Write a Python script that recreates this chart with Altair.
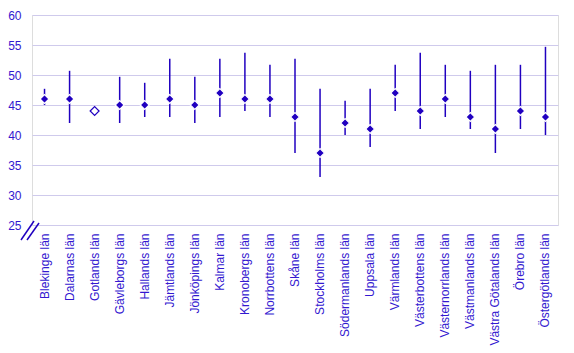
import altair as alt
import pandas as pd

counties = ["Blekinge län", "Dalarnas län", "Gotlands län", "Gävleborgs län", "Hallands län",
            "Jämtlands län", "Jönköpings län", "Kalmar län", "Kronobergs län", "Norrbottens län",
            "Skåne län", "Stockholms län", "Södermanlands län", "Uppsala län", "Värmlands län",
            "Västerbottens län", "Västernorrlands län", "Västmanlands län", "Västra Götalands län",
            "Örebro län", "Östergötlands län"]
estimate = [46, 46, 44, 45, 45, 46, 45, 47, 46, 46, 43, 37, 42, 41, 47, 44, 46, 43, 41, 44, 43]
lower = [45, 42, 44, 42, 43, 43, 42, 43, 44, 43, 37, 33, 40, 38, 44, 41, 43, 41, 37, 41, 40]
upper = [47.7, 50.7, 44, 49.7, 48.7, 52.7, 49.7, 52.7, 53.7, 51.7, 52.7, 47.7, 45.7, 47.7,
         51.7, 53.7, 51.7, 50.7, 51.7, 51.7, 54.7]
marker = ["filled", "filled", "open"] + ["filled"] * 18
yticks = [25, 30, 35, 40, 45, 50, 55, 60]

df = pd.DataFrame({"county": counties, "est": estimate, "lo": lower, "hi": upper, "marker": marker})

MARK = "#2000c0"
TEXT = "#3318d0"
GRID = "#cfcaec"

xscale = alt.Scale(type="band", paddingInner=0, paddingOuter=0)
x = alt.X("county:N", sort=None, title=None, scale=xscale, bandPosition=0.5,
          axis=alt.Axis(labelAngle=-90, labelFontSize=12, labelColor=TEXT, labelFont="Liberation Sans",
                        ticks=False, domain=False, labelPadding=8, grid=False, labelLimit=200,
                        labelOverlap=False))
yscale = alt.Scale(domain=[25, 60], nice=False, zero=False)
yaxis = alt.Axis(values=yticks, labelFontSize=12, labelColor=TEXT, labelFont="Liberation Sans",
                 ticks=False, domain=False, labelPadding=11, gridColor=GRID, gridWidth=1,
                 gridOpacity=1, labelOverlap=False)

rules = alt.Chart(df).mark_rule(color=MARK, strokeWidth=1.5).encode(
    x=x,
    y=alt.Y("lo:Q", scale=yscale, title=None, axis=yaxis),
    y2="hi:Q",
)

points = alt.Chart(df).mark_point(shape="diamond", size=80, opacity=1, strokeWidth=1.2).encode(
    x=x,
    y=alt.Y("est:Q", scale=yscale, title=None, axis=yaxis),
    fill=alt.Fill("marker:N", scale=alt.Scale(domain=["filled", "open"], range=[MARK, "white"]), legend=None),
    stroke=alt.Stroke("marker:N", scale=alt.Scale(domain=["filled", "open"], range=["white", MARK]), legend=None),
)

brk = pd.DataFrame({"k": [0]})
break1 = alt.Chart(brk).mark_rule(color=MARK, strokeWidth=1.5).encode(
    x=alt.value(-11), x2=alt.value(2), y=alt.value(225), y2=alt.value(206))
break2 = alt.Chart(brk).mark_rule(color=MARK, strokeWidth=1.5).encode(
    x=alt.value(-5), x2=alt.value(7), y=alt.value(225), y2=alt.value(208))

chart = alt.layer(rules, points, break1, break2).properties(
    width=526, height=210,
    autosize=alt.AutoSizeParams(type="none"),
    padding={"left": 32, "top": 15, "right": 16, "bottom": 128},
).configure_view(stroke=None).configure(background="white").configure_axis(
    gridColor=GRID, gridOpacity=1, gridWidth=1
)

chart.save("out.html", embed_options={"renderer": "svg", "actions": False})
